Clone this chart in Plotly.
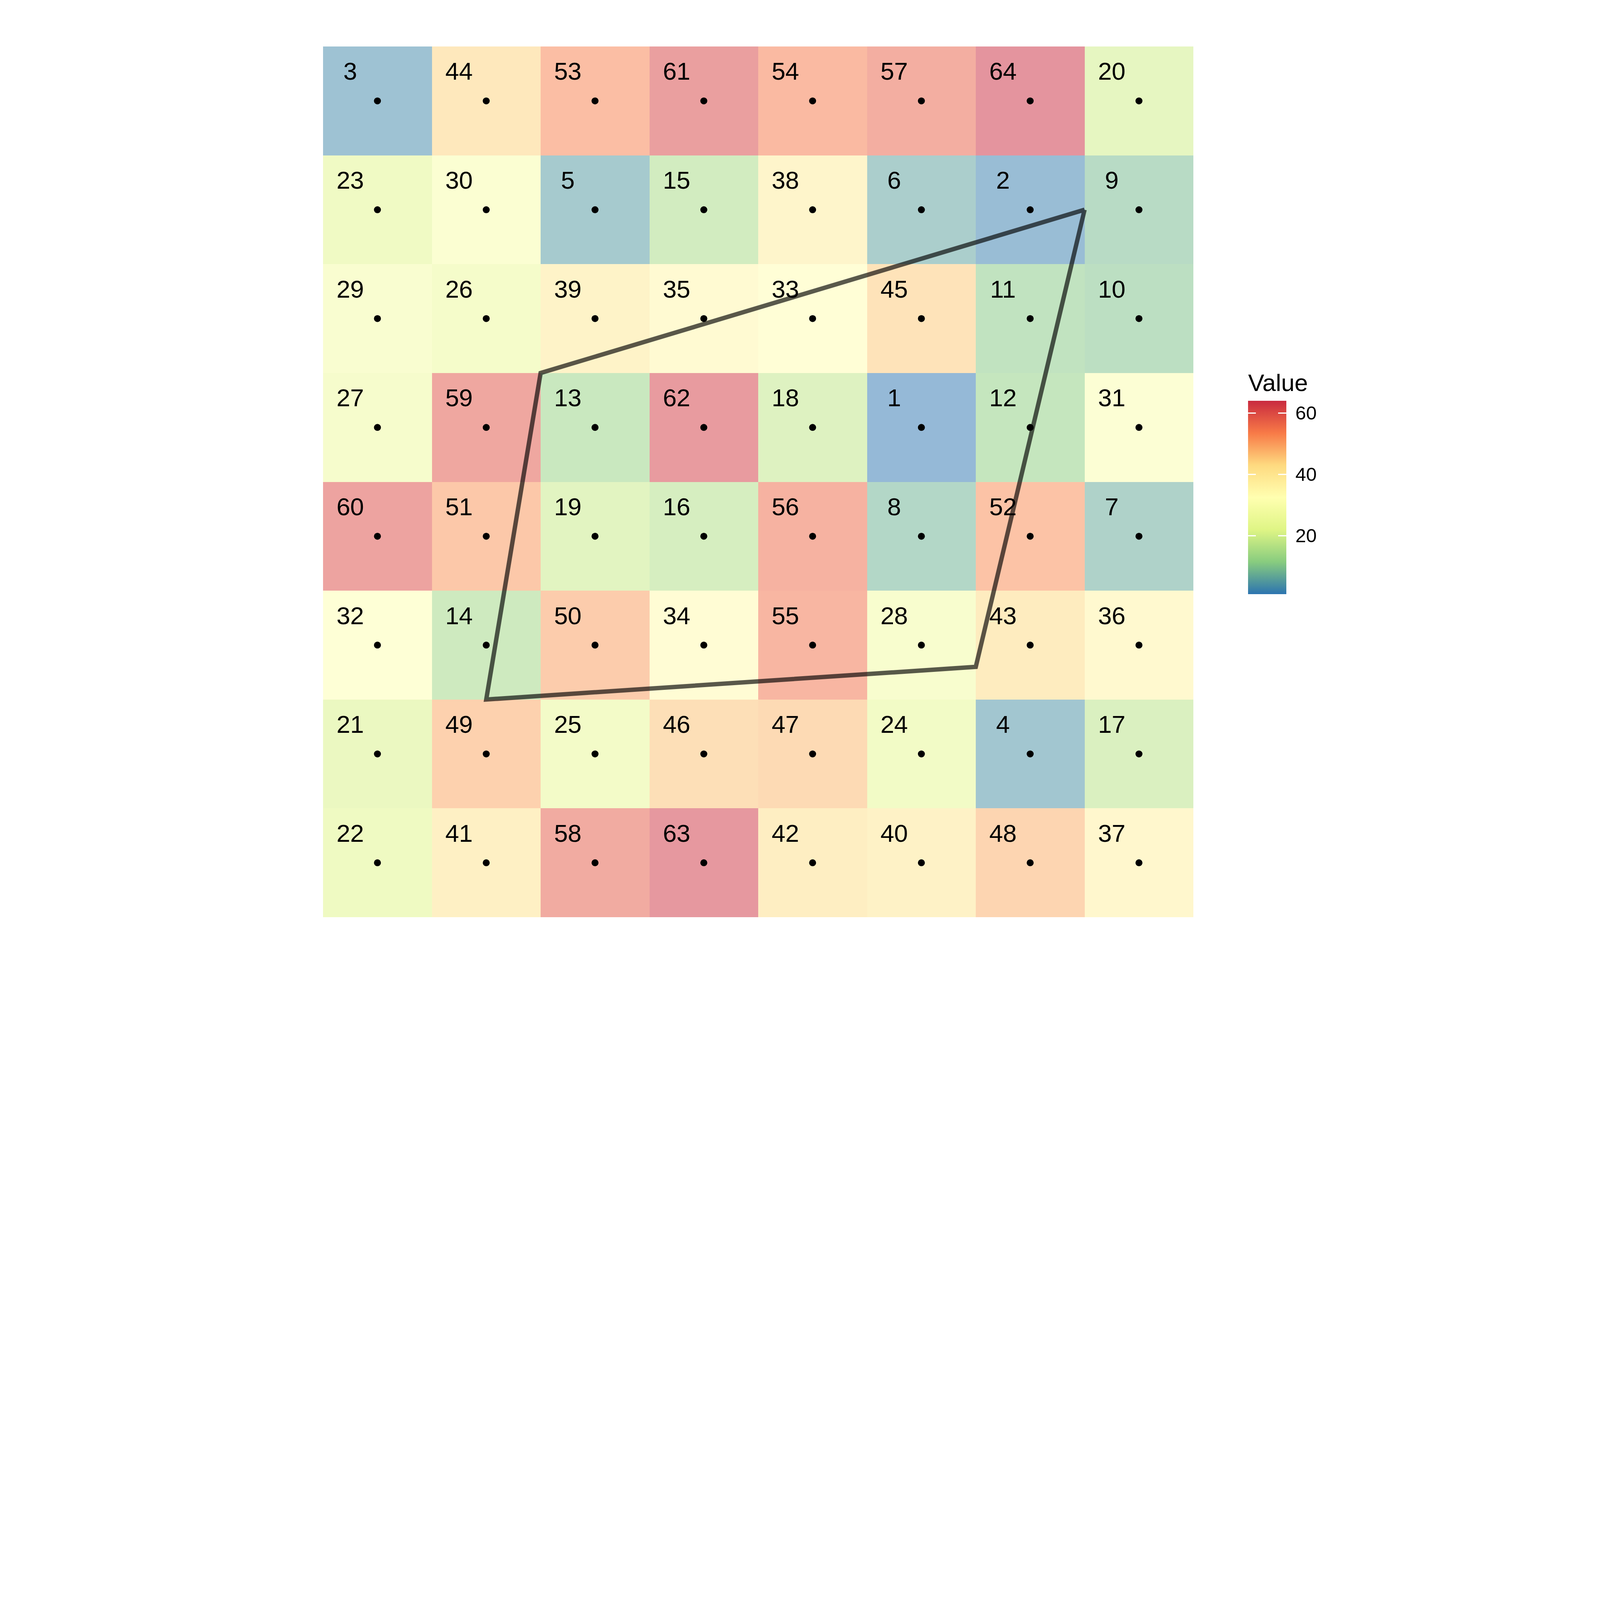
import plotly.graph_objects as go

# grid values, rows listed top to bottom
rows_top_down = [
    [3, 44, 53, 61, 54, 57, 64, 20],
    [23, 30, 5, 15, 38, 6, 2, 9],
    [29, 26, 39, 35, 33, 45, 11, 10],
    [27, 59, 13, 62, 18, 1, 12, 31],
    [60, 51, 19, 16, 56, 8, 52, 7],
    [32, 14, 50, 34, 55, 28, 43, 36],
    [21, 49, 25, 46, 47, 24, 4, 17],
    [22, 41, 58, 63, 42, 40, 48, 37],
]
cols = [1, 2, 3, 4, 5, 6, 7, 8]
rows = [1, 2, 3, 4, 5, 6, 7, 8]

# polygon outline
poly_x = [7.5, 2.5, 2.0, 6.5, 7.5]
poly_y = [7.0, 5.5, 2.5, 2.8, 7.0]

cbar_ticks = [20, 40, 60]

# spectral scale as it appears in the reference (a bit more saturated), blue low -> red high
spectral = [
    [0.0, "#2c74b0"],
    [1 / 6, "#88cc7f"],
    [2 / 6, "#dff585"],
    [3 / 6, "#ffffb0"],
    [4 / 6, "#feda80"],
    [5 / 6, "#f87a47"],
    [1.0, "#c92a3f"],
]

# the browser window is only 4096 px wide, so everything is scaled down
s = 0.51
W, H = round(8000 * s), round(4800 * s)

z = rows_top_down[::-1]  # bottom row first

xs, ys, labels = [], [], []
for j, r in enumerate(rows):
    for i, c in enumerate(cols):
        xs.append(c)
        ys.append(r)
        labels.append(str(z[j][i]))

font_name = "Liberation Sans, Arial, sans-serif"
tick_len = 40 * s


def cbar(kind):
    # kind: "labels" (full bar + tick labels), "right" (white inner ticks, right edge),
    # "left" (narrow strip on the left edge carrying the left white ticks)
    show = kind == "labels"
    return dict(
        title=dict(text="Value", side="top",
                   font=dict(size=121 * s, family=font_name,
                             color="black" if show else "rgba(0,0,0,0)")),
        thickness=tick_len if kind == "left" else 192 * s, thicknessmode="pixels",
        len=569, lenmode="pixels",
        x=1.0629, xanchor="left", xpad=0,
        y=0.3712, yanchor="bottom", ypad=0,
        outlinewidth=0,
        tickvals=cbar_ticks,
        ticks="outside" if show else "inside",
        ticklen=14 if show else tick_len,
        tickcolor="white", tickwidth=2.5,
        showticklabels=show,
        tickfont=dict(size=96 * s, family=font_name, color="black"),
    )


fig = go.Figure()

fig.add_trace(go.Heatmap(
    x=cols, y=rows, z=z,
    zmin=1, zmax=64,
    colorscale=spectral,
    opacity=0.5,
    showscale=False,
    hoverinfo="skip",
))

# colour bar at full opacity, stacked so the white ticks show on both edges
for kind in ("labels", "right", "left"):
    fig.add_trace(go.Scatter(
        x=[None], y=[None], mode="markers",
        marker=dict(color=[1, 64], cmin=1, cmax=64, colorscale=spectral,
                    showscale=True, colorbar=cbar(kind)),
        showlegend=False, hoverinfo="skip",
    ))

fig.add_trace(go.Scatter(
    x=[x - 0.25 for x in xs], y=[y + 0.25 for y in ys],
    mode="text", text=labels,
    textfont=dict(size=124 * s, family=font_name, color="black"),
    textposition="middle center",
    showlegend=False, hoverinfo="skip",
))

fig.add_trace(go.Scatter(
    x=xs, y=ys, mode="markers",
    marker=dict(size=35 * s, color="black"),
    showlegend=False, hoverinfo="skip",
))

fig.add_trace(go.Scatter(
    x=poly_x, y=poly_y, mode="lines",
    line=dict(color="rgba(0,0,0,0.65)", width=22 * s),
    showlegend=False, hoverinfo="skip",
))

fig.update_xaxes(range=[0.5, 8.5], visible=False, showgrid=False, zeroline=False)
fig.update_yaxes(range=[0.5, 8.5], visible=False, showgrid=False, zeroline=False)

fig.update_layout(
    width=W, height=H,
    margin=dict(l=1605 * s, r=2025 * s, t=218 * s, b=212 * s),
    paper_bgcolor="white", plot_bgcolor="white",
    showlegend=False,
)

fig.write_html("out.html")
